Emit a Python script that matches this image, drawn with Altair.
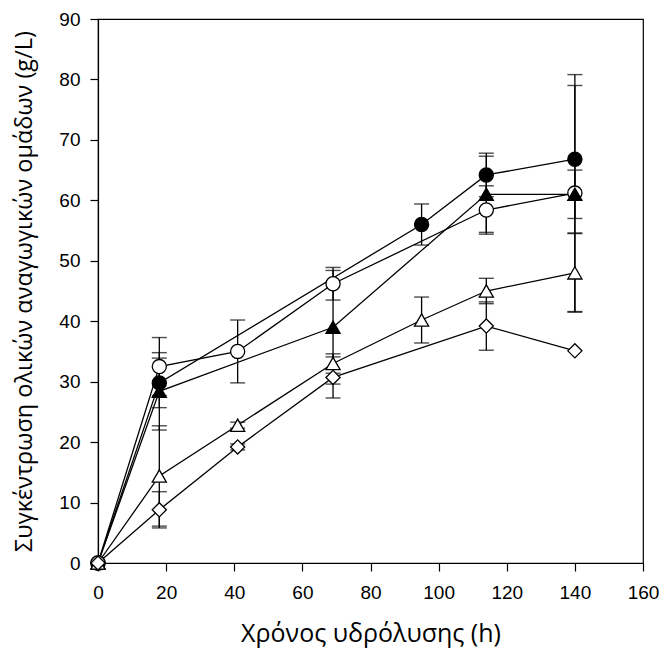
import altair as alt
import pandas as pd

# ---- data ----
series_names = ["A_filled_circle", "B_open_circle", "C_filled_triangle", "D_open_triangle", "E_open_diamond"]

t_A = [0, 18, 95, 114, 140]
y_A = [0, 29.8, 56.0, 64.2, 66.8]
e_A = [0, 4.1, 3.4, 3.6, 12.2]

t_B = [0, 18, 41, 69, 114, 140]
y_B = [0, 32.5, 35.0, 46.2, 58.4, 61.2]
e_B = [0, 4.8, 5.2, 2.7, 4.0, 19.6]

t_C = [0, 18, 69, 114, 140]
y_C = [0, 28.4, 39.0, 61.0, 61.0]
e_C = [0, 6.4, 9.4, 6.3, 4.0]

t_D = [0, 18, 41, 69, 95, 114, 140]
y_D = [0, 14.4, 22.8, 33.0, 40.2, 45.0, 48.0]
e_D = [0, 8.3, 0.5, 1.6, 3.8, 2.1, 6.5]

t_E = [0, 18, 41, 69, 114, 140]
y_E = [0, 8.8, 19.2, 30.7, 39.2, 35.1]
e_E = [0, 3.0, 0.5, 3.4, 4.0, 0]

x_ticks = [0, 20, 40, 60, 80, 100, 120, 140, 160]
y_ticks = [0, 10, 20, 30, 40, 50, 60, 70, 80, 90]

x_title = "Χρόνος υδρόλυσης (h)"
y_title = "Συγκέντρωση ολικών αναγωγικών ομάδων (g/L)"

# ---- build table ----
rows = []
for name, ts, ys, es in zip(series_names,
                            [t_A, t_B, t_C, t_D, t_E],
                            [y_A, y_B, y_C, y_D, y_E],
                            [e_A, e_B, e_C, e_D, e_E]):
    for i, (t, y, e) in enumerate(zip(ts, ys, es)):
        rows.append({"series": name, "t": t, "y": y, "err": e,
                     "lo": y - e, "hi": y + e, "order": i})
df = pd.DataFrame(rows)
df_err = df[df["err"] > 0]
caps = pd.concat([
    df_err.assign(cap=df_err["hi"]),
    df_err.assign(cap=df_err["lo"]),
])

LABEL_FONT = "Liberation Sans"
TITLE_FONT = "Open Sans"

xscale = alt.Scale(domain=[0, 160], nice=False, zero=False)
yscale = alt.Scale(domain=[0, 90], nice=False, zero=False)

x_enc = alt.X("t:Q", scale=xscale,
              axis=alt.Axis(values=x_ticks, title=x_title, grid=False,
                            tickSize=8, labelPadding=12, titlePadding=19,
                            labelFontSize=19, titleFontSize=25, labelFlush=False))
y_enc = alt.Y("y:Q", scale=yscale,
              axis=alt.Axis(values=y_ticks, title=y_title, grid=False,
                            tickSize=8, labelPadding=10, titlePadding=22,
                            labelFontSize=19, titleFontSize=23.5, labelFlush=False))

base = alt.Chart(df)

lines = base.mark_line(color="black", strokeWidth=1.3).encode(
    x=x_enc, y=y_enc, detail="series:N", order="order:Q"
)

err_rules = alt.Chart(df_err).mark_rule(color="black", strokeWidth=1.3).encode(
    x=alt.X("t:Q", scale=xscale), y=alt.Y("lo:Q", scale=yscale), y2="hi:Q"
)

err_caps = alt.Chart(caps).mark_tick(color="black", orient="horizontal",
                                     size=15, thickness=1.4).encode(
    x=alt.X("t:Q", scale=xscale), y=alt.Y("cap:Q", scale=yscale)
)

points = base.mark_point(filled=True, stroke="black", strokeWidth=1.3, opacity=1).encode(
    x=alt.X("t:Q", scale=xscale),
    y=alt.Y("y:Q", scale=yscale),
    shape=alt.Shape("series:N", legend=None,
                    scale=alt.Scale(domain=series_names,
                                    range=["circle", "circle", "triangle-up", "triangle-up", "diamond"])),
    fill=alt.Fill("series:N", legend=None,
                  scale=alt.Scale(domain=series_names,
                                  range=["black", "white", "black", "white", "white"])),
    size=alt.Size("series:N", legend=None,
                  scale=alt.Scale(domain=series_names,
                                  range=[200, 200, 260, 260, 330])),
)

chart = alt.layer(lines, err_rules, err_caps, points).properties(
    width=545, height=544,
    autosize=alt.AutoSizeParams(type="none"),
    padding={"left": 98, "top": 19, "right": 22, "bottom": 92},
    background="white",
).configure_view(
    stroke="black", strokeWidth=1.2
).configure_axis(
    domainColor="black", tickColor="black", labelColor="black", titleColor="black",
    domainWidth=1.2, tickWidth=1.2, labelFont=LABEL_FONT, titleFont=TITLE_FONT,
    titleFontWeight="normal"
)

chart.save("out.html", embed_options={"renderer": "svg", "actions": False})
